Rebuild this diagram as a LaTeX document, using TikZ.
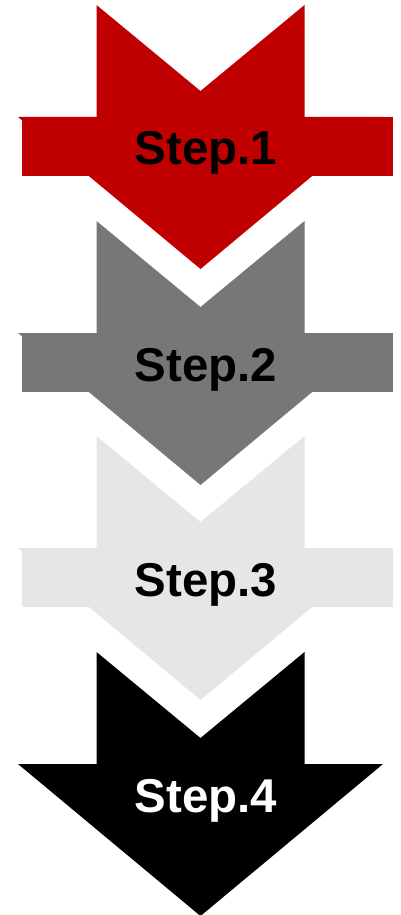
\documentclass[tikz,border=0pt]{standalone}
\usepackage{fontspec}
\setmainfont{Liberation Sans}
\definecolor{stepred}{HTML}{C00000}
\definecolor{stepgray}{HTML}{777777}
\definecolor{steplight}{HTML}{E6E6E6}
\tikzset{steplabel/.style={anchor=base,inner sep=0pt,font=\fontsize{27}{32}\selectfont\bfseries}}
\begin{document}
\begin{tikzpicture}[x=0.02cm,y=-0.02cm]
  \useasboundingbox (0,0) rectangle (400,915);
  \foreach \t/\c in {5/stepred,221/stepgray,436/steplight,652/black}
    \fill[\c] (96.5,\t) -- (200.5,\t+86) -- (304.5,\t) -- (304.5,\t+112) -- (383,\t+112)
      -- (200.5,\t+264) -- (18,\t+112) -- (96.5,\t+112) -- cycle;
  \foreach \t/\c in {5/stepred,221/stepgray,436/steplight}
    \fill[\c] (22,\t+112) rectangle (393,\t+171);
  \foreach \t/\n/\tc in {5/1/black,221/2/black,436/3/black,652/4/white}
    \node[steplabel,text=\tc] (step\n) at (206,\t+160) {Step.\n};
\end{tikzpicture}
\end{document}
